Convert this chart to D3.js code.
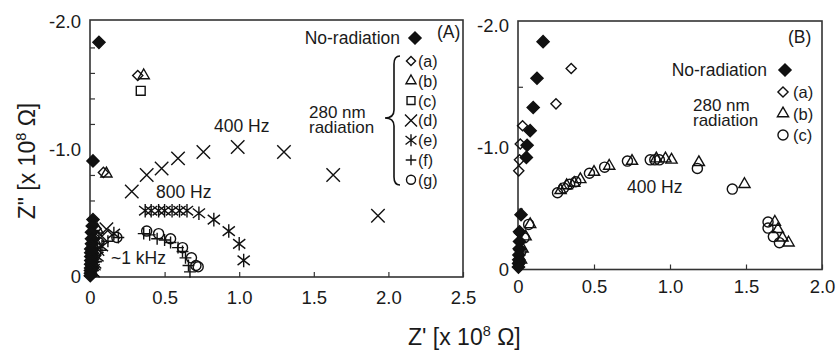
<!DOCTYPE html>
<html>
<head>
<meta charset="utf-8">
<script src="https://cdn.jsdelivr.net/npm/d3@7"></script>
<style>
  body { margin: 0; background: #fff; }
  text { font-family: "Liberation Sans", Arial, sans-serif; fill: #1a1a1a; }
</style>
</head>
<body>
<svg id="chart" width="838" height="352"></svg>
<script>
// ---- panel (A): [Z', Z''] in units of 1e8 ohm ----
const noRadA = [[0.06,-1.84],[0.02,-0.91],[0.02,-0.45],[0.015,-0.40],[0.01,-0.35],[0.01,-0.30],[0.01,-0.26],[0.005,-0.22],[0.005,-0.19],[0.005,-0.16],[0.005,-0.13],[0.004,-0.10],[0.004,-0.07],[0.003,-0.05],[0.003,-0.03],[0.002,-0.01]];
const radA_a = [[0.32,-1.58],[0.09,-0.82],[0.04,-0.38],[0.03,-0.31],[0.02,-0.24],[0.015,-0.17],[0.01,-0.11],[0.01,-0.06],[0.005,-0.02]];
const radA_b = [[0.36,-1.58],[0.11,-0.81],[0.05,-0.37],[0.03,-0.29],[0.02,-0.21],[0.015,-0.14],[0.01,-0.08],[0.005,-0.03]];
const radA_c = [[0.34,-1.46],[0.03,-0.33],[0.02,-0.24],[0.015,-0.16],[0.01,-0.09],[0.005,-0.04]];
const radA_d = [[0.02,-0.05],[0.03,-0.12],[0.05,-0.22],[0.08,-0.32],[0.11,-0.375],[0.28,-0.67],[0.38,-0.80],[0.48,-0.85],[0.59,-0.93],[0.76,-0.98],[0.99,-1.02],[1.30,-0.98],[1.63,-0.80],[1.93,-0.48]];
const radA_e = [[0.02,-0.04],[0.03,-0.09],[0.05,-0.16],[0.08,-0.24],[0.16,-0.34],[0.37,-0.52],[0.41,-0.52],[0.46,-0.52],[0.50,-0.52],[0.55,-0.52],[0.60,-0.52],[0.65,-0.52],[0.73,-0.50],[0.83,-0.45],[0.93,-0.36],[1.00,-0.26],[1.03,-0.13]];
const radA_f = [[0.02,-0.05],[0.04,-0.12],[0.07,-0.21],[0.12,-0.28],[0.19,-0.31],[0.36,-0.34],[0.40,-0.33],[0.45,-0.30],[0.50,-0.29],[0.54,-0.27],[0.59,-0.23],[0.62,-0.20],[0.64,-0.15],[0.66,-0.09],[0.67,-0.04]];
const radA_g = [[0.02,-0.07],[0.03,-0.16],[0.06,-0.27],[0.18,-0.31],[0.38,-0.36],[0.46,-0.34],[0.54,-0.30],[0.62,-0.23],[0.68,-0.15],[0.71,-0.09],[0.725,-0.08]];

// ---- panel (B) ----
const noRadB = [[0.165,-1.87],[0.125,-1.57],[0.10,-1.33],[0.08,-1.14],[0.06,-1.02],[0.055,-0.92],[0.02,-0.45],[0.01,-0.31],[0.01,-0.23],[0.008,-0.17],[0.006,-0.12],[0.005,-0.08],[0.004,-0.05],[0.003,-0.02]];
const radB_a = [[0.35,-1.65],[0.25,-1.36],[0.03,-1.18],[0.015,-1.03],[0.01,-0.90],[0.005,-0.81],[0.01,-0.30],[0.008,-0.16],[0.004,-0.06]];
const radB_b = [[0.02,-0.08],[0.03,-0.17],[0.05,-0.27],[0.08,-0.37],[0.28,-0.65],[0.32,-0.69],[0.37,-0.71],[0.41,-0.74],[0.50,-0.80],[0.60,-0.85],[0.75,-0.89],[0.91,-0.91],[0.97,-0.91],[1.01,-0.90],[1.19,-0.88],[1.49,-0.70],[1.69,-0.39],[1.71,-0.33],[1.74,-0.26],[1.78,-0.22]];
const radB_c = [[0.01,-0.06],[0.02,-0.15],[0.04,-0.26],[0.07,-0.37],[0.26,-0.63],[0.30,-0.67],[0.34,-0.70],[0.38,-0.72],[0.47,-0.79],[0.57,-0.84],[0.72,-0.89],[0.87,-0.90],[0.90,-0.90],[0.93,-0.90],[1.18,-0.83],[1.41,-0.66],[1.645,-0.39],[1.645,-0.34],[1.68,-0.27],[1.72,-0.22]];

// tick values
const xTicksA = [0, 0.5, 1.0, 1.5, 2.0, 2.5];
const xTicksB = [0, 0.5, 1.0, 1.5, 2.0];
const yLabels = [0, -1.0, -2.0];
const yMinorA = [-0.2,-0.4,-0.6,-0.8,-1.2,-1.4,-1.6,-1.8];
const yMinorB = [-0.5,-1.5];
const legendA = ["(a)","(b)","(c)","(d)","(e)","(f)","(g)"];
const legendB = ["(a)","(b)","(c)"];

const svg = d3.select("#chart");
const fmt = d => d === 0 ? "0" : d.toFixed(1);

// X with a vertical bar, as in the figure
const symbolStar = {
  draw(ctx, size) {
    const r = Math.sqrt(size);
    ctx.moveTo(0, -r); ctx.lineTo(0, r);
    ctx.moveTo(-0.9 * r, -0.7 * r); ctx.lineTo(0.9 * r, 0.7 * r);
    ctx.moveTo(-0.9 * r, 0.7 * r); ctx.lineTo(0.9 * r, -0.7 * r);
  }
};

const sym = {
  fdia: { type: d3.symbolDiamond2, size: 95, fill: true },
  dia: { type: d3.symbolDiamond2, size: 66 },
  tri: { type: d3.symbolTriangle2, size: 90 },
  sq: { type: d3.symbolSquare2, size: 100 },
  times: { type: d3.symbolTimes, size: 120 },
  star: { type: symbolStar, size: 46 },
  plus: { type: d3.symbolPlus, size: 48 },
  circ: { type: d3.symbolCircle, size: 80 }
};

function marks(g, data, s, x, y) {
  g.append("g").selectAll("path")
    .data(data)
    .join("path")
    .attr("transform", d => `translate(${x(d[0])},${y(d[1])})`)
    .attr("d", d3.symbol().type(s.type).size(s.size))
    .attr("fill", s.fill ? "#111" : "none")
    .attr("stroke", "#111")
    .attr("stroke-width", 1.4);
}

function legendMark(g, s, cx, cy, scale) {
  g.append("path")
    .attr("transform", `translate(${cx},${cy})`)
    .attr("d", d3.symbol().type(s.type).size(s.size * (scale || 1)))
    .attr("fill", s.fill ? "#111" : "none")
    .attr("stroke", "#111")
    .attr("stroke-width", 1.4);
}

function panel(x, y, xTicks, yMinor, padX) {
  const [x0, x1] = x.range();
  const [y0, y1] = y.range();
  const g = svg.append("g");

  g.append("g").attr("transform", `translate(${x0},0)`)
    .call(d3.axisLeft(y).tickValues(yMinor).tickSize(-5).tickFormat(""));
  g.append("g").attr("transform", `translate(${x0},0)`)
    .call(d3.axisLeft(y).tickValues(yLabels).tickSize(0).tickPadding(9).tickFormat(fmt));
  g.append("g").attr("transform", `translate(0,${y0})`)
    .call(d3.axisBottom(x).tickValues(xTicks).tickSize(-5).tickPadding(padX).tickFormat(fmt));

  g.selectAll(".domain").remove();
  g.selectAll(".tick line").attr("stroke", "#333").attr("stroke-width", 1.2);
  g.selectAll(".tick text").attr("font-size", 18.5).attr("font-family", null).attr("fill", "#1a1a1a");

  g.append("rect")
    .attr("x", x0).attr("y", y1)
    .attr("width", x1 - x0).attr("height", y0 - y1)
    .attr("fill", "none").attr("stroke", "#333").attr("stroke-width", 1.6);
  return g;
}

function label(g, txt, x, y, anchor, size) {
  return g.append("text").attr("x", x).attr("y", y)
    .attr("text-anchor", anchor || "start")
    .attr("font-size", size || 17.5).text(txt);
}

// two stacked lines in one text element
function label2(g, l1, l2, x, y, gap) {
  const t = g.append("text").attr("x", x).attr("y", y).attr("font-size", 17);
  t.append("tspan").attr("x", x).text(l1);
  t.append("tspan").attr("x", x).attr("dy", gap).text(l2);
}

// ---------- panel A ----------
const xA = d3.scaleLinear().domain([0, 2.5]).range([90, 463]);
const yA = d3.scaleLinear().domain([0, -2.015]).range([277, 20]);
const gA = panel(xA, yA, xTicksA, yMinorA, 13.5);

marks(gA, radA_a, sym.dia, xA, yA);
marks(gA, radA_b, sym.tri, xA, yA);
marks(gA, radA_c, sym.sq, xA, yA);
marks(gA, radA_d, sym.times, xA, yA);
marks(gA, radA_e, sym.star, xA, yA);
marks(gA, radA_f, sym.plus, xA, yA);
marks(gA, radA_g, sym.circ, xA, yA);
marks(gA, noRadA, sym.fdia, xA, yA);

label(gA, "400 Hz", 214, 132);
label(gA, "800 Hz", 156, 198);
label(gA, "~1 kHz", 111, 264);
label(gA, "No-radiation", 400, 44, "end");
legendMark(gA, sym.fdia, 415, 38);
label(gA, "(A)", 437, 38);
label2(gA, "280 nm", "radiation", 309, 118, 15);

gA.append("path")
  .attr("d", "M400,56 Q394,56 394,64 L394,110 Q394,118 385,118 Q394,118 394,126 L394,177 Q394,185 400,185")
  .attr("fill", "none").attr("stroke", "#111").attr("stroke-width", 1.6);

const legSymA = [sym.dia, sym.tri, sym.sq, sym.times, sym.star, sym.plus, sym.circ];
legendA.forEach((t, i) => {
  const cy = 61 + i * 19.8;
  legendMark(gA, legSymA[i], 411, cy, 0.8);
  label(gA, t, 418, cy + 6, "start", 16);
});

// ---------- panel B ----------
const xB = d3.scaleLinear().domain([0, 2.0]).range([518, 822]);
const yB = d3.scaleLinear().domain([0, -2.04]).range([269.5, 21]);
const gB = panel(xB, yB, xTicksB, yMinorB, 10);

marks(gB, radB_a, sym.dia, xB, yB);
marks(gB, radB_b, sym.tri, xB, yB);
marks(gB, radB_c, sym.circ, xB, yB);
marks(gB, noRadB, sym.fdia, xB, yB);

label(gB, "400 Hz", 627, 193);
label(gB, "(B)", 788, 43);
label(gB, "No-radiation", 767, 76, "end");
legendMark(gB, sym.fdia, 785, 70);
label2(gB, "280 nm", "radiation", 693, 111, 15);
const legSymB = [sym.dia, sym.tri, sym.circ];
legendB.forEach((t, i) => {
  const cy = 92 + i * 21.5;
  legendMark(gB, legSymB[i], 783, cy);
  label(gB, t, 793, cy + 6, "start", 16.5);
});

// ---------- axis titles ----------
const xt = svg.append("text").attr("x", 408).attr("y", 345).attr("font-size", 23);
xt.append("tspan").text("Z' [x 10");
xt.append("tspan").attr("dy", -9).attr("font-size", 14.5).text("8");
xt.append("tspan").attr("dy", 9).text(" Ω]");

const yt = svg.append("text")
  .attr("transform", "translate(35,161) rotate(-90)")
  .attr("text-anchor", "middle").attr("font-size", 23);
yt.append("tspan").text("Z\" [x 10");
yt.append("tspan").attr("dy", -9).attr("font-size", 14.5).text("8");
yt.append("tspan").attr("dy", 9).text(" Ω]");
</script>
</body>
</html>
